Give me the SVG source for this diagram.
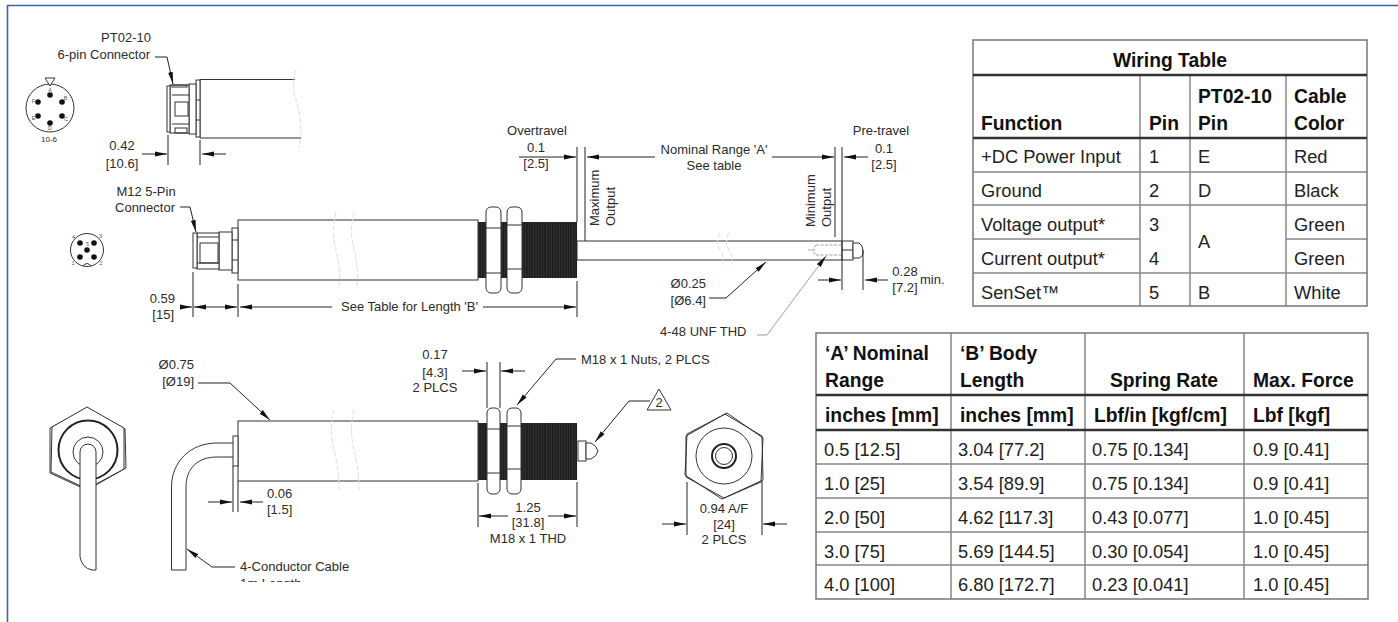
<svg xmlns="http://www.w3.org/2000/svg" width="1398" height="622" viewBox="0 0 1398 622">
<style>
text{font-family:"Liberation Sans",Arial,sans-serif;font-size:13px;fill:#2b2b2b}
.m{text-anchor:middle}.e{text-anchor:end}
.o{fill:none;stroke:#333;stroke-width:1}
.w{fill:#fff;stroke:#333;stroke-width:1}
.d{fill:none;stroke:#222;stroke-width:1}
.a{marker-end:url(#ar)}
.l{fill:none;stroke:#888;stroke-width:.8}
.b{fill:none;stroke:#ddd;stroke-width:1;stroke-dasharray:5 2}
.pin{fill:#111}
.s{font-size:5.5px;fill:#555}
.tb{fill:none;stroke:#888;stroke-width:1.5}
.tk{fill:none;stroke:#333;stroke-width:2.4}
.tr{font-size:18.3px;fill:#222}
.tx{font-size:19.3px;font-weight:bold;fill:#111}
</style>
<defs>
<marker id="ar" markerUnits="userSpaceOnUse" markerWidth="12" markerHeight="6" refX="12" refY="3" orient="auto"><path d="M0 .6L12 3L0 5.4Z" fill="#111"/></marker>
<pattern id="thr" patternUnits="userSpaceOnUse" width="2.6" height="4"><rect width="2.6" height="4" fill="#1d1d1d"/><rect width=".7" height="4" fill="#3c3c3c"/></pattern>
</defs>
<rect width="1398" height="622" fill="#fff"/>
<path id="frame" d="M7.5 622V5.500H1398" fill="none" stroke="#3f66a3" stroke-width="1.600"/>

<g id="pin-6">
<circle class="o" cx="50" cy="108" r="24"/>
<path class="w" d="M45 78H55L50 86Z" stroke-width=".7"/>
<circle class="pin" cx="50" cy="95" r="2.800"/><circle class="pin" cx="38" cy="102" r="2.800"/><circle class="pin" cx="62" cy="102" r="2.800"/><circle class="pin" cx="38" cy="116" r="2.800"/><circle class="pin" cx="62" cy="116" r="2.800"/><circle class="pin" cx="50" cy="123" r="2.800"/>
<text class="s m" x="50" y="92">A</text><text class="s m" x="65.500" y="100">B</text><text class="s m" x="66" y="121">C</text><text class="s m" x="50" y="130">D</text><text class="s m" x="33.500" y="120">E</text><text class="s m" x="33.500" y="103">F</text>
<text class="m" x="49" y="142" style="font-size:8px">10-6</text>
</g>

<g id="pin-5">
<circle class="o" cx="87" cy="250" r="16.500"/>
<path class="o" d="M83 266Q87 261 91 266" stroke-width=".7"/>
<circle class="pin" cx="80" cy="243" r="2.800"/><circle class="pin" cx="94" cy="243" r="2.800"/><circle class="pin" cx="80" cy="257" r="2.800"/><circle class="pin" cx="94" cy="257" r="2.800"/><circle class="pin" cx="87" cy="250" r="2.800"/>
<text class="s m" x="73.500" y="239">4</text><text class="s m" x="100.500" y="238">3</text><text class="s m" x="87.500" y="246">5</text><text class="s m" x="73" y="265">1</text><text class="s m" x="101" y="265">2</text>
</g>

<g id="top-sensor">
<path class="o" d="M295 79.500H200V138H301"/>
<rect class="w" x="196" y="80" width="4" height="57"/>
<rect class="w" x="189" y="84" width="7" height="50"/>
<rect class="w" x="170" y="85" width="19" height="48"/>
<rect class="w" x="167" y="86" width="3" height="46"/>
<rect class="o" x="175" y="102" width="13" height="14"/>
<rect class="o" x="175" y="128" width="12" height="5"/>
<rect class="o" x="172" y="85" width="15" height="2"/>
<path class="o" d="M172 95H189M172 124H189M196 100H200M196 120H200"/>
<path class="b" d="M296 70Q291 85 296 100T301 135L299 148"/>
</g>

<g id="mid-sensor">
<rect class="w" x="238" y="220" width="240" height="60"/>
<rect x="478" y="222" width="99" height="56" fill="url(#thr)"/>
<rect class="w" x="486" y="207" width="15" height="86" rx="5"/>
<rect class="w" x="507" y="207" width="15" height="86" rx="5"/>
<path class="o" d="M486 228H501M486 273H501M507 225H522M507 269H522"/>
<rect class="w" x="232" y="228" width="6" height="45"/>
<rect class="w" x="219" y="232" width="13" height="38"/>
<rect class="w" x="197" y="233" width="22" height="36"/>
<rect class="w" x="193" y="233" width="4" height="35"/>
<rect class="o" x="200" y="243" width="18" height="20"/>
<path class="o" d="M197 237H219M197 263H219M232 240H238M232 260H238"/>
<path class="b" d="M336 212Q331 232 336 250T339 288M354 212Q349 232 354 250T357 288"/>
<rect class="w" x="577" y="241" width="276" height="19"/>
<path class="o" d="M842 241V260M842 250H853"/>
<path class="b" d="M720 233Q715 243 720 250T722 266M729 233Q724 243 729 250T731 266"/>
<path class="w" d="M853 243H859Q863 245 863 251T859 258H853Z"/>
<path d="M808 250H816M816 245H842M816 255H842M816 245L812 250L816 255" fill="none" stroke="#999" stroke-width=".9" stroke-dasharray="3 1.500"/>
</g>

<g id="bot-sensor">
<rect class="w" x="238" y="421" width="240" height="60"/>
<rect x="478" y="423" width="99" height="57" fill="url(#thr)"/>
<rect class="w" x="487" y="408" width="13" height="86" rx="5"/>
<rect class="w" x="507" y="408" width="14" height="86" rx="5"/>
<path class="o" d="M487 429H500M487 473H500M507 426H521M507 469H521"/>
<path class="b" d="M334 410Q329 430 334 450T339 490M354 410Q349 430 354 450T359 490"/>
<rect class="w" x="233" y="436" width="5" height="30"/>
<path class="o" d="M233 443H217C190 443 171.500 462 171.500 487V570H186V487C186 468 198 457 217 457H233"/>
<rect class="w" x="578" y="441" width="8" height="20"/>
<path class="w" d="M586 443H591Q597 446 598 451Q597 456 591 459H586Z"/>
</g>

<g id="hex-left">
<path class="o" d="M87 408L125 429L126 468L87 490L50 473L50 428Z"/>
<path class="w" d="M87 407L124 428L124 469L87 489L51 472L52 427Z"/>
<circle cx="88" cy="450" r="29.500" fill="none" stroke="#222" stroke-width="2"/>
<circle class="o" cx="88" cy="452" r="15"/>
<path class="w" d="M96 570V452A8 8 0 0 0 80 452V557Q82 568 92 570Z"/>
</g>

<g id="hex-right">
<path class="o" d="M727 413L763 438L761 482L722 499L685 475L687 434Z"/>
<path class="o" d="M725 414L762 436L763 480L724 498L686 477L686 436Z"/>
<circle class="o" cx="724" cy="456" r="28"/>
<circle cx="724" cy="456" r="12" fill="none" stroke="#222" stroke-width="2"/>
<circle class="o" cx="724" cy="456" r="8.500"/>
</g>

<g id="connectors">
<path class="d a" d="M155 57H167L173 84"/>
<path class="d" d="M168 135V165M200 140V165"/>
<path class="d a" d="M142 154H167"/><path class="d a" d="M226 154H202"/>
<path class="d a" d="M180 207H190L196 232"/>
<path class="d" d="M193 272V317M238 284V317M577 281V317M577 147V222M585 147V241M835 147V237M842 147V290M863 250V290"/>
<path class="d a" d="M180 307H192"/>
<path class="d a" d="M215 307H194"/><path class="d a" d="M215 307H237"/>
<path class="d a" d="M332 307H240"/><path class="d a" d="M483 307H576"/>
<path class="d a" d="M519 157H576"/><path class="d a" d="M655 157H587"/>
<path class="d a" d="M772 157H834"/><path class="d a" d="M868 157H844"/>
<path class="d a" d="M818 280H841"/><path class="d a" d="M888 280H865"/>
<path class="d a" d="M709 298H726L766 262"/>
<path class="l a" d="M757 335H767L826 256"/>
<path class="d a" d="M198 383H230L270 420"/>
<path class="d" d="M233 466V512M238 481V512"/>
<path class="d a" d="M208 502H232"/><path class="d a" d="M263 502H240"/>
<path class="d a" d="M235 567H212L187 549"/>
<path class="d" d="M487 362V408M500 362V408M478 483V527M577 482V527M687 482V535M762 481V535"/>
<path class="d a" d="M462 371H486"/><path class="d a" d="M525 371H501"/>
<path class="d a" d="M576 359H556L517 405"/>
<path class="d a" d="M650 401H629L595 442"/>
<path class="d a" d="M508 516H479"/><path class="d a" d="M548 516H576"/>
<path class="d a" d="M662 524H686"/><path class="d a" d="M787 524H763"/>
</g>
<path id="note-2" class="w" d="M659 389L671 410H647Z"/>

<g id="labels">
<text class="m" x="126" y="42">PT02-10</text>
<text class="e" x="150" y="59">6-pin Connector</text>
<text class="m" x="122" y="150">0.42</text><text class="m" x="122" y="168">[10.6]</text>
<text class="m" x="146" y="196">M12 5-Pin</text>
<text class="e" x="175" y="212">Connector</text>
<text class="e" x="175" y="303">0.59</text><text class="e" x="174" y="319">[15]</text>
<text class="e" x="478" y="311">See Table for Length 'B'</text>
<text class="m" x="537" y="135">Overtravel</text>
<text class="m" x="536" y="152">0.1</text><text class="m" x="536" y="168">[2.5]</text>
<text class="m" x="714" y="154">Nominal Range 'A'</text><text class="m" x="714" y="170">See table</text>
<text transform="translate(599 226) rotate(-90)">Maximum</text>
<text transform="translate(615 226) rotate(-90)">Output</text>
<text transform="translate(815 227) rotate(-90)">Minimum</text>
<text transform="translate(831 227) rotate(-90)">Output</text>
<text class="m" x="881" y="135">Pre-travel</text>
<text class="m" x="884" y="153">0.1</text><text class="m" x="884" y="169">[2.5]</text>
<text class="m" x="905" y="276">0.28</text><text class="m" x="905" y="292">[7.2]</text>
<text x="920" y="284">min.</text>
<text class="e" x="706" y="288">Ø0.25</text><text class="e" x="706" y="305">[Ø6.4]</text>
<text x="660" y="336">4-48 UNF THD</text>
<text class="e" x="194" y="369">Ø0.75</text><text class="e" x="194" y="386">[Ø19]</text>
<text x="267" y="498">0.06</text><text x="267" y="514">[1.5]</text>
<text x="240" y="571">4-Conductor Cable</text>
<text x="240" y="588">1m Length</text>
<rect x="236" y="582" width="130" height="12" fill="#fff"/>
<text class="m" x="435" y="359">0.17</text><text class="m" x="435" y="377">[4.3]</text><text class="m" x="435" y="392">2 PLCS</text>
<text x="581" y="364">M18 x 1 Nuts, 2 PLCS</text>
<text class="m" x="659" y="407">2</text>
<text class="m" x="528" y="512">1.25</text><text class="m" x="528" y="527">[31.8]</text><text class="m" x="528" y="543">M18 x 1 THD</text>
<text class="m" x="724" y="513">0.94 A/F</text><text class="m" x="724" y="529">[24]</text><text class="m" x="724" y="544">2 PLCS</text>
</g>

<g id="wiring-table">
<path class="tb" d="M973 172H1367M973 205H1367M973 239H1140M1286 239H1367M973 273H1367M1140 75V306M1190 75V306M1286 75V306"/>
<rect x="973" y="40" width="394" height="266" fill="none" stroke="#777" stroke-width="1.500"/>
<path class="tk" d="M973 75H1367M973 138H1367"/>
<text class="tx m" x="1170" y="67">Wiring Table</text>
<text class="tx" x="981" y="130">Function</text><text class="tx" x="1149" y="130">Pin</text><text class="tx" x="1198" y="103">PT02-10</text><text class="tx" x="1198" y="130">Pin</text><text class="tx" x="1294" y="103">Cable</text><text class="tx" x="1294" y="130">Color</text>
<text class="tr" x="981" y="163">+DC Power Input</text><text class="tr" x="1149" y="163">1</text><text class="tr" x="1198" y="163">E</text><text class="tr" x="1294" y="163">Red</text>
<text class="tr" x="981" y="197">Ground</text><text class="tr" x="1149" y="197">2</text><text class="tr" x="1198" y="197">D</text><text class="tr" x="1294" y="197">Black</text>
<text class="tr" x="981" y="231">Voltage output*</text><text class="tr" x="1149" y="231">3</text><text class="tr" x="1198" y="248">A</text><text class="tr" x="1294" y="231">Green</text>
<text class="tr" x="981" y="265">Current output*</text><text class="tr" x="1149" y="265">4</text><text class="tr" x="1294" y="265">Green</text>
<text class="tr" x="981" y="299">SenSet™</text><text class="tr" x="1149" y="299">5</text><text class="tr" x="1198" y="299">B</text><text class="tr" x="1294" y="299">White</text>
</g>

<g id="range-table">
<path class="tb" d="M816 464H1368M816 498H1368M816 532H1368M816 565H1368M951 333V599M1085 333V599M1244 333V599"/>
<rect x="816" y="333" width="552" height="266" fill="none" stroke="#777" stroke-width="1.500"/>
<path class="tk" d="M816 395H1368M816 430H1368"/>
<text class="tx" x="825" y="360">‘A’ Nominal</text><text class="tx" x="825" y="387">Range</text>
<text class="tx" x="960" y="360">‘B’ Body</text><text class="tx" x="960" y="387">Length</text>
<text class="tx m" x="1164" y="387">Spring Rate</text><text class="tx" x="1253" y="387">Max. Force</text>
<text class="tx" x="825" y="422">inches [mm]</text><text class="tx" x="960" y="422">inches [mm]</text><text class="tx" x="1094" y="422">Lbf/in [kgf/cm]</text><text class="tx" x="1253" y="422">Lbf [kgf]</text>
<text class="tr" x="824" y="456">0.5 [12.5]</text><text class="tr" x="958" y="456">3.04 [77.2]</text><text class="tr" x="1092" y="456">0.75 [0.134]</text><text class="tr" x="1253" y="456">0.9 [0.41]</text>
<text class="tr" x="824" y="490">1.0 [25]</text><text class="tr" x="958" y="490">3.54 [89.9]</text><text class="tr" x="1092" y="490">0.75 [0.134]</text><text class="tr" x="1253" y="490">0.9 [0.41]</text>
<text class="tr" x="824" y="524">2.0 [50]</text><text class="tr" x="958" y="524">4.62 [117.3]</text><text class="tr" x="1092" y="524">0.43 [0.077]</text><text class="tr" x="1253" y="524">1.0 [0.45]</text>
<text class="tr" x="824" y="558">3.0 [75]</text><text class="tr" x="958" y="558">5.69 [144.5]</text><text class="tr" x="1092" y="558">0.30 [0.054]</text><text class="tr" x="1253" y="558">1.0 [0.45]</text>
<text class="tr" x="824" y="591">4.0 [100]</text><text class="tr" x="958" y="591">6.80 [172.7]</text><text class="tr" x="1092" y="591">0.23 [0.041]</text><text class="tr" x="1253" y="591">1.0 [0.45]</text>
</g>
</svg>
